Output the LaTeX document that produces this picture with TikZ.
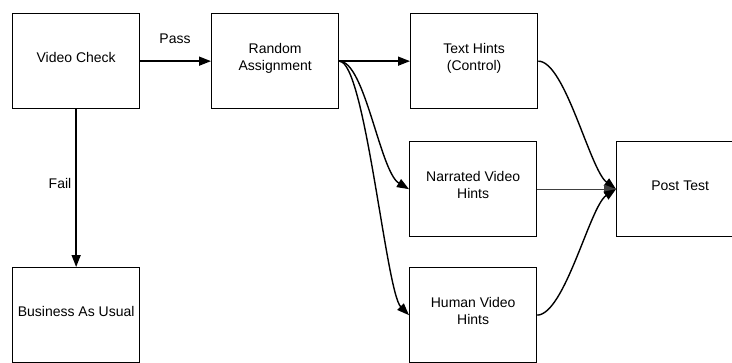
\documentclass[tikz,border=0pt]{standalone}
\usepackage{fontspec}
\setmainfont{Liberation Sans}
\usetikzlibrary{arrows.meta}
\begin{document}
\begin{tikzpicture}[x=1pt,y=-1pt,
  box/.style={draw=black,line width=1.3pt,minimum width=127pt,minimum height=95pt,inner sep=0pt,align=center,font=\fontsize{14}{17}\selectfont,text depth=7.5pt,anchor=north west},
  conn/.style={line width=1.4pt,-{Triangle[length=12pt,width=9pt]}},
  lbl/.style={font=\fontsize{14}{17}\selectfont}]
\useasboundingbox (0,0) rectangle (732,362);
\clip (0,0) rectangle (732,362);
\node[box] (vc) at (12,13) {Video Check};
\node[box] (ra) at (211,13) {Random\\Assignment};
\node[box] (th) at (410,13) {Text Hints\\(Control)};
\node[box] (nv) at (409,141) {Narrated Video\\Hints};
\node[box] (hv) at (409,267) {Human Video\\Hints};
\node[box] (pt) at (616,141) {Post Test};
\node[box] (bu) at (12,267) {Business As Usual};
\node[lbl] (pass) at (175,39) {Pass};
\node[lbl] (fail) at (60,183) {Fail};
\draw[conn] (vc.east) -- (ra.west);
\draw[conn] (vc.south) -- (bu.north);
\draw[conn] (ra.east) -- (th.west);
\draw[conn] (ra.east) .. controls (365,61) and (380,172) .. (nv.west);
\draw[conn] (ra.east) .. controls (365,61) and (386,292) .. (hv.west);
\draw[conn] (th.east) .. controls (565,61) and (590,170) .. (pt.west);
\draw[conn,line width=1.1pt,draw=black!75] (nv.east) -- (pt.west);
\draw[conn] (hv.east) .. controls (565,314) and (590,206) .. (pt.west);
\end{tikzpicture}
\end{document}
